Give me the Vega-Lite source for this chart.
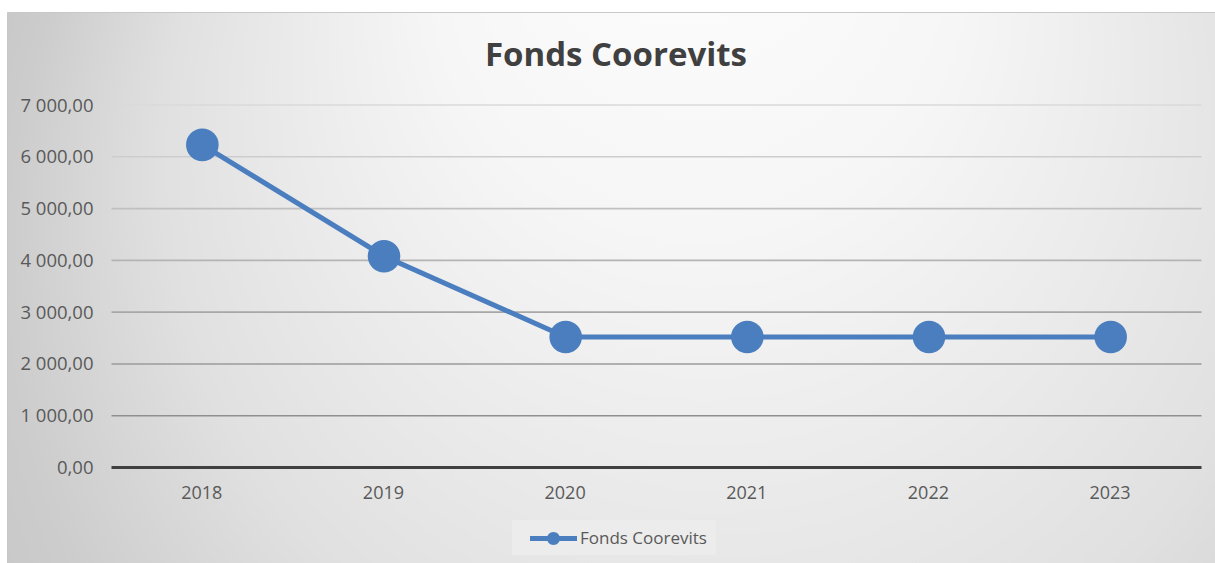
{
  "$schema": "https://vega.github.io/schema/vega-lite/v6.json",
  "width": 1208,
  "height": 551,
  "autosize": {"type": "none"},
  "padding": {"left": 7, "top": 12, "right": 0, "bottom": 0},
  "background": "#ffffff",
  "view": {
    "fill": {
      "gradient": "radial",
      "x1": 0.55, "y1": 0.1, "r1": 0,
      "x2": 0.62, "y2": 0.55, "r2": 0.72,
      "stops": [
        {"offset": 0, "color": "#ffffff"},
        {"offset": 0.3, "color": "#f6f6f6"},
        {"offset": 0.65, "color": "#e0e0e0"},
        {"offset": 0.85, "color": "#cccccc"},
        {"offset": 1, "color": "#c4c4c4"}
      ]
    },
    "stroke": "#c8c8c8",
    "strokeWidth": 1
  },
  "config": {
    "font": "Open Sans",
    "locale": {
      "number": {"decimal": ",", "thousands": " ", "grouping": [3], "currency": ["", " €"]}
    }
  },
  "title": {
    "text": "Fonds Coorevits",
    "font": "Open Sans",
    "fontSize": 33,
    "fontWeight": "bold",
    "color": "#404040",
    "anchor": "middle",
    "baseline": "alphabetic",
    "offset": 0,
    "dy": 87,
    "dx": 5
  },
  "data": {
    "values": [
      {"year": "2018", "value": 6230, "series": "Fonds Coorevits"},
      {"year": "2019", "value": 4080, "series": "Fonds Coorevits"},
      {"year": "2020", "value": 2520, "series": "Fonds Coorevits"},
      {"year": "2021", "value": 2520, "series": "Fonds Coorevits"},
      {"year": "2022", "value": 2520, "series": "Fonds Coorevits"},
      {"year": "2023", "value": 2520, "series": "Fonds Coorevits"}
    ]
  },
  "layer": [
    {
      "data": {"values": [{"v": 0}, {"v": 1000}, {"v": 2000}, {"v": 3000}, {"v": 4000}, {"v": 5000}, {"v": 6000}, {"v": 7000}]},
      "mark": {"type": "rule"},
      "encoding": {
        "y": {
          "field": "v", "type": "quantitative",
          "scale": {"domain": [-1844, 8796], "nice": false, "zero": false},
          "axis": {"title": null, "orient": "left", "offset": -104.5, "values": [0, 1000, 2000, 3000, 4000, 5000, 6000, 7000], "format": ",.2f", "domain": false, "ticks": false, "tickSize": 0, "grid": false, "labelPadding": 18.5, "labelFontSize": 18.5, "labelFont": "Open Sans", "labelColor": "#595959"}
        },
        "x": {"datum": "2018", "type": "ordinal", "bandPosition": 0},
        "x2": {"datum": "2023", "bandPosition": 1},
        "stroke": {
          "field": "v", "type": "quantitative",
          "scale": {"domain": [0, 1000, 7000], "range": ["#404040", "#8f8f8f", "#dadada"]},
          "legend": null
        },
        "strokeWidth": {"condition": {"test": "datum.v === 0", "value": 3}, "value": 1.6}
      }
    },
    {
      "mark": {"type": "line", "strokeWidth": 5},
      "encoding": {
        "x": {
          "field": "year", "type": "ordinal",
          "scale": {"type": "band", "domain": ["2018", "2019", "2020", "2021", "2022", "2023"], "paddingInner": 0, "paddingOuter": 0.3248, "align": 0.8856},
          "axis": {"title": null, "orient": "bottom", "offset": -95.5, "domain": false, "ticks": false, "tickSize": 0, "grid": false, "labelAngle": 0, "labelPadding": 25.5, "labelOffset": 20, "labelFontSize": 18, "labelFont": "Open Sans", "labelColor": "#595959"}
        },
        "y": {"field": "value", "type": "quantitative"},
        "color": {
          "field": "series", "type": "nominal",
          "scale": {"range": ["#4a7ebf"]},
          "legend": {
            "title": null,
            "orient": "none",
            "legendX": 505,
            "legendY": 508,
            "padding": 8.5,
            "fillColor": "#ececec",
            "symbolType": "M-0.05,-0.25H4.65V0.25H-0.05Z M1.65,0A0.65,0.65 0 1,1 2.95,0A0.65,0.65 0 1,1 1.65,0Z",
            "symbolSize": 400,
            "symbolFillColor": "#4a7ebf",
            "symbolStrokeWidth": 0,
            "labelOffset": 39.5,
            "labelFontSize": 17,
            "labelFont": "Open Sans",
            "labelColor": "#595959",
            "encode": {"symbols": {"update": {"fill": {"value": "#4a7ebf"}, "stroke": {"value": "transparent"}, "strokeWidth": {"value": 0}, "opacity": {"value": 1}}}}
          }
        }
      }
    },
    {
      "mark": {"type": "point", "filled": true, "size": 1060, "opacity": 1},
      "encoding": {
        "x": {"field": "year", "type": "ordinal"},
        "y": {"field": "value", "type": "quantitative"},
        "color": {"field": "series", "type": "nominal"}
      }
    }
  ]
}
